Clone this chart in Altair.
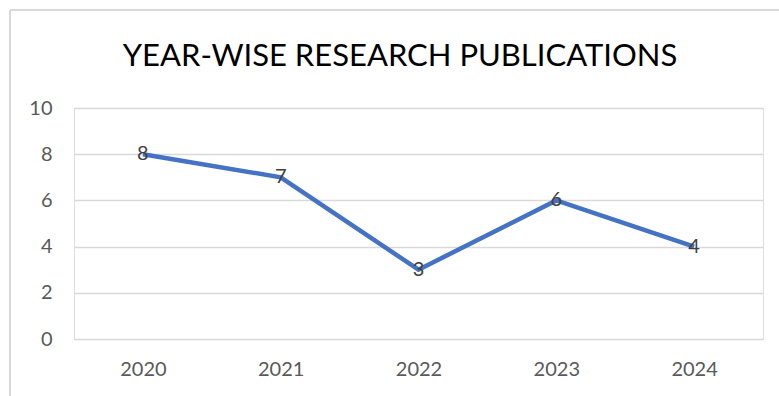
import altair as alt
import pandas as pd

years = ["2020", "2021", "2022", "2023", "2024"]
counts = [8, 7, 3, 6, 4]
y_ticks = [0, 2, 4, 6, 8, 10]
title_text = "YEAR-WISE RESEARCH PUBLICATIONS"

df = pd.DataFrame({"year": years, "count": counts})

FONT = "Lato"
GRAY = "#595959"

base = alt.Chart(df).encode(
    x=alt.X("year:N", sort=years, title=None,
            scale=alt.Scale(paddingInner=0, paddingOuter=0.5),
            axis=alt.Axis(labelAngle=0, domain=False, ticks=False, grid=False,
                          labelFont=FONT, labelFontSize=20, labelColor=GRAY,
                          labelPadding=20)),
    y=alt.Y("count:Q", title=None,
            scale=alt.Scale(domain=[0, 10]),
            axis=alt.Axis(values=y_ticks, domain=False, ticks=False,
                          gridColor="#D9D9D9", gridWidth=1.3,
                          labelFont=FONT, labelFontSize=20, labelColor=GRAY,
                          labelPadding=22)),
)

line = base.mark_line(color="#4472C4", strokeWidth=4.5)
labels = base.mark_text(font=FONT, fontSize=20, color="#404040",
                        align="center", baseline="middle").encode(text="count:Q")

title_df = pd.DataFrame({"t": [title_text]})
title = alt.Chart(title_df).mark_text(
    font=FONT, fontSize=31, color="#000000", align="center", baseline="alphabetic"
).encode(text="t:N", x=alt.value(326), y=alt.value(-42))

border = alt.Chart(df).mark_rule(color="#D9D9D9", strokeWidth=1.3).encode(
    x=alt.value(-64), x2=alt.value(720), y=alt.value(-98))
border_left = alt.Chart(df).mark_rule(color="#D9D9D9", strokeWidth=1.3).encode(
    x=alt.value(-64), y=alt.value(-98), y2=alt.value(320))

chart = alt.layer(border, border_left, title, line, labels).properties(
    width=689, height=231,
    autosize=alt.AutoSizeParams(type="none"),
    padding={"left": 74, "top": 108, "right": 16, "bottom": 57},
).configure_view(stroke=None).configure(background="white")

chart.save("out.html", embed_options={"renderer": "svg", "actions": False})
